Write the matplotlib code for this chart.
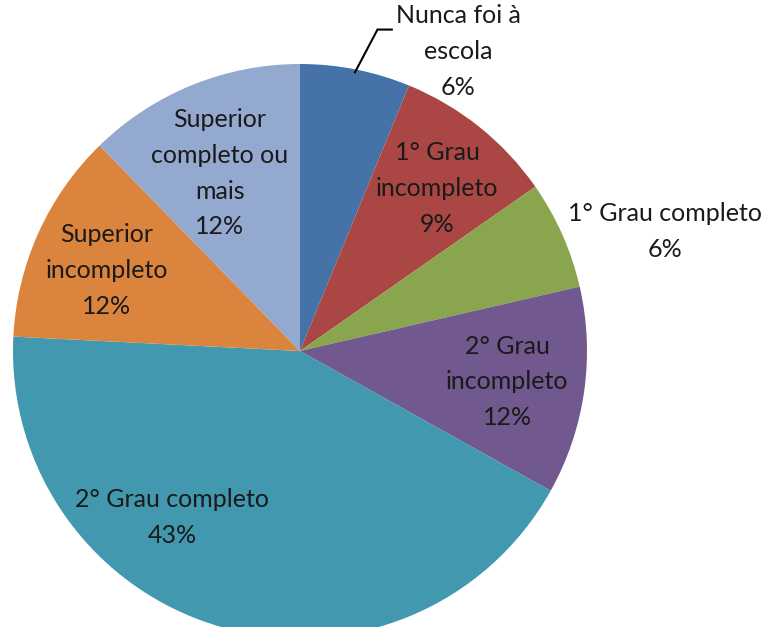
import numpy as np
import matplotlib
matplotlib.use("Agg")
import matplotlib.pyplot as plt

# data (percent of respondents)
categorias = ["Nunca foi à\nescola", "1° Grau\nincompleto", "1° Grau completo",
              "2° Grau\nincompleto", "2° Grau completo", "Superior\nincompleto",
              "Superior\ncompleto ou\nmais"]
valores = [6.2, 9.1, 6.1, 11.7, 42.7, 11.9, 12.3]
cores = ["#4572A7", "#AA4643", "#89A54E", "#71588F", "#4198AF", "#DB843D", "#93A9CF"]

# label placement: (distance in radii, angle shift in degrees, clockwise)
posicao_rotulos = [(1.18, 16.7), (0.74, 1.5), (1.34, 5.8), (0.73, 0.4),
                   (0.73, 21.5), (0.73, -1.8), (0.68, -2.1)]

plt.rcParams['font.family'] = ['Lato', 'DejaVu Sans']

W, H = 765, 627
fig = plt.figure(figsize=(W / 100, H / 100), dpi=100)
ax = fig.add_axes([0, 0, 1, 1])

cx, cy, R = 300, 276, 287
wedges, _ = ax.pie(valores, colors=cores, startangle=90, counterclock=False,
                   center=(cx, cy), radius=R, frame=True,
                   wedgeprops=dict(linewidth=0, edgecolor='none'))
ax.set_xlim(0, W)
ax.set_ylim(0, H)
ax.set_aspect('equal')
ax.axis('off')

total = sum(valores)
for w, nome, v, (dist, shift) in zip(wedges, categorias, valores, posicao_rotulos):
    mid = 0.5 * (w.theta1 + w.theta2)  # degrees, counterclockwise from +x
    ang = np.deg2rad(mid - shift)
    x = cx + dist * R * np.cos(ang)
    y = cy + dist * R * np.sin(ang)
    ax.text(x, y, f"{nome}\n{round(100 * v / total):.0f}%", ha='center', va='center',
            fontsize=18, color='#1a1a1a', linespacing=1.68)

# leader line for the first (outside) label
w0 = wedges[0]
m0 = np.deg2rad(0.5 * (w0.theta1 + w0.theta2))
p0 = (cx + 0.99 * R * np.cos(m0), cy + 0.99 * R * np.sin(m0))
ax.plot([p0[0], cx + 0.27 * R, cx + 0.32 * R],
        [p0[1], cy + 1.12 * R, cy + 1.12 * R], color='black', lw=1.5,
        solid_joinstyle='miter')

fig.savefig("out.png", dpi=100)
